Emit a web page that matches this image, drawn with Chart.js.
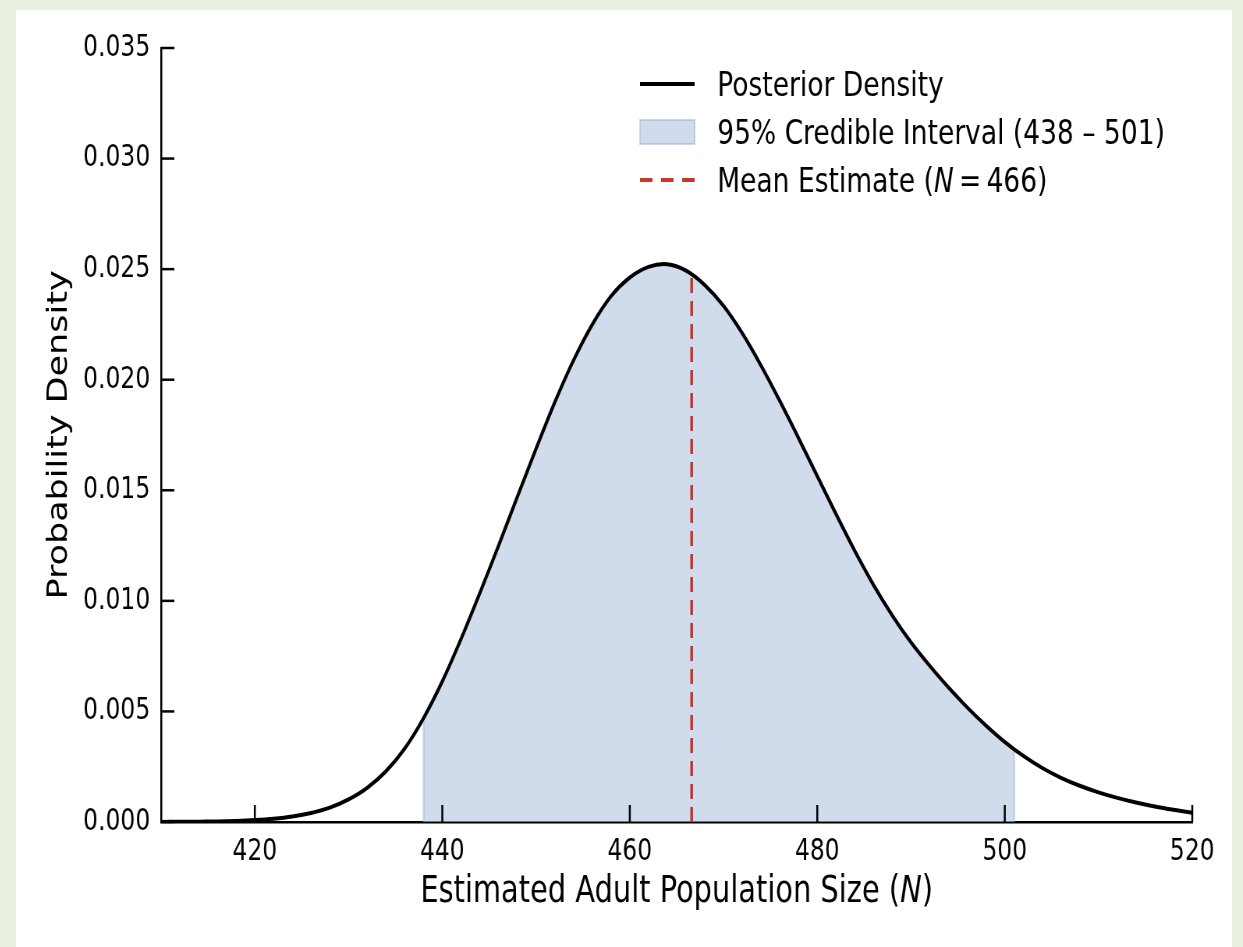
<!DOCTYPE html>
<html><head><meta charset="utf-8">
<script src="https://cdn.jsdelivr.net/npm/chart.js@4.4.1/dist/chart.umd.min.js"></script>
<style>
html,body{margin:0;padding:0;background:#e9f0e1;width:1243px;height:947px;overflow:hidden}
#panel{position:absolute;left:16px;top:10px;width:1216px;height:937px;background:#fff;overflow:hidden}
#c{position:absolute;left:0;top:0;transform:scaleX(0.78);transform-origin:0 0;display:block}
</style></head><body>
<div id="panel"><canvas id="c" width="1559" height="937" style="width:1559px;height:937px"></canvas></div>
<script>
// ---- data ----
const popSize = [410,412,414,416,418,420,422,424,426,428,430,432,434,436,438,440,442,444,446,448,450,452,454,456,458,460,462,464,466,468,470,472,474,476,478,480,482,484,486,488,490,492,494,496,498,500,502,504,506,508,510,512,514,516,518,520];
const density = [0.000004,0.000008,0.000015,0.000027,0.000049,0.000087,0.000149,0.00025,0.00041,0.00065,0.00102,0.00155,0.00230,0.00333,0.00470,0.00636,0.00828,0.01035,0.01250,0.01470,0.01688,0.01898,0.02088,0.02250,0.02378,0.02462,0.02510,0.02522,0.02493,0.02428,0.02334,0.02210,0.02064,0.01904,0.01736,0.01564,0.01392,0.01226,0.01072,0.00934,0.00812,0.00706,0.00608,0.00518,0.00436,0.00362,0.00298,0.00244,0.00200,0.00164,0.00134,0.00109,0.00088,0.00070,0.00055,0.00042];
const ciLow = 438;
const ciHigh = 501;
const ciHighDensity = 0.0033;
const meanN = 466.6;
const meanLabelN = 466;
const meanDensity = 0.0247;
const xTicks = [420,440,460,480,500,520];
const yTicks = [0.000,0.005,0.010,0.015,0.020,0.025,0.030,0.035];
const xTitleMain = 'Estimated Adult Population Size (';
const xTitleVar = 'N';
const yTitle = 'Probability Density';
const legendCurve = 'Posterior Density';
const legendCI = '95% Credible Interval (' + ciLow + ' \u2013 ' + ciHigh + ')';
const legendMeanPre = 'Mean Estimate (';
const legendMeanVar = 'N';
const legendMeanPost = '\u2009=\u2009' + meanLabelN + ')';

// ---- styles ----
const FONT = '"DejaVu Sans", "Liberation Sans", sans-serif';
const fillColor = 'rgba(176,196,222,0.6)';
const edgeColor = 'rgba(150,175,210,0.5)';
const redColor = '#c9372c';

const curvePts = popSize.map((x,i)=>({x, y: density[i]}));
const ciPts = curvePts.filter(p => p.x >= ciLow && p.x <= ciHigh);
ciPts.push({x: ciHigh, y: ciHighDensity});
const meanPts = [{x: meanN, y: 0}, {x: meanN, y: meanDensity}];

const decor = {
  id: 'decor',
  afterDatasetDraw(chart, args) {
    if (args.index !== 0) return;
    const ctx = chart.ctx, meta = chart.getDatasetMeta(0), ca = chart.chartArea;
    const pts = meta.data;
    ctx.save();
    ctx.strokeStyle = edgeColor; ctx.lineWidth = 2.5;
    [pts[0], pts[pts.length-1]].forEach(p => {
      ctx.beginPath(); ctx.moveTo(p.x, ca.bottom); ctx.lineTo(p.x, p.y); ctx.stroke();
    });
    ctx.restore();
  },
  afterDatasetsDraw(chart) {
    const ctx = chart.ctx, ca = chart.chartArea;
    const xs = chart.scales.x, ys = chart.scales.y;
    ctx.save();
    ctx.strokeStyle = '#000'; ctx.lineWidth = 2.5;
    xTicks.forEach(v => {
      const px = xs.getPixelForValue(v);
      ctx.beginPath(); ctx.moveTo(px, ca.bottom); ctx.lineTo(px, ca.bottom - 17); ctx.stroke();
    });
    yTicks.forEach(v => {
      const py = ys.getPixelForValue(v);
      ctx.beginPath(); ctx.moveTo(ca.left, py); ctx.lineTo(ca.left + 17, py); ctx.stroke();
    });
    ctx.restore();
  },
  afterDraw(chart) {
    const ctx = chart.ctx, ca = chart.chartArea;
    ctx.save();
    ctx.fillStyle = '#000';
    // x title with italic N
    const xf = 37;
    ctx.font = xf + 'px ' + FONT;
    const w1 = ctx.measureText(xTitleMain).width;
    ctx.font = 'italic ' + xf + 'px ' + FONT;
    const w2 = ctx.measureText(xTitleVar).width;
    ctx.font = xf + 'px ' + FONT;
    const w3 = ctx.measureText(')').width;
    let x0 = (ca.left + ca.right)/2 - (w1+w2+w3)/2;
    const yb = 892;
    ctx.textBaseline = 'alphabetic'; ctx.textAlign = 'left';
    ctx.fillText(xTitleMain, x0, yb);
    ctx.font = 'italic ' + xf + 'px ' + FONT; ctx.fillText(xTitleVar, x0 + w1, yb);
    ctx.font = xf + 'px ' + FONT; ctx.fillText(')', x0 + w1 + w2, yb);
    // y title
    ctx.save();
    ctx.translate(65, (ca.top + ca.bottom)/2);
    ctx.rotate(-Math.PI/2);
    ctx.textAlign = 'center'; ctx.textBaseline = 'alphabetic';
    ctx.font = '35px ' + FONT;
    ctx.fillText(yTitle, 0, 0);
    ctx.restore();
    // legend
    const hx0 = 800, hx1 = 870, tx = 899;
    const rows = [74, 122, 170];
    const fs = 34;
    const off = 12.3;
    ctx.textAlign = 'left'; ctx.textBaseline = 'alphabetic';
    // row 1
    ctx.strokeStyle = '#000'; ctx.lineWidth = 4;
    ctx.beginPath(); ctx.moveTo(hx0, rows[0]); ctx.lineTo(hx1, rows[0]); ctx.stroke();
    ctx.font = fs + 'px ' + FONT; ctx.fillText(legendCurve, tx, rows[0] + off);
    // row 2
    ctx.fillStyle = fillColor; ctx.fillRect(hx0, rows[1] - 12, hx1 - hx0, 24);
    ctx.strokeStyle = edgeColor; ctx.lineWidth = 2; ctx.strokeRect(hx0, rows[1] - 12, hx1 - hx0, 24);
    ctx.fillStyle = '#000'; ctx.fillText(legendCI, tx, rows[1] + off);
    // row 3
    ctx.strokeStyle = redColor; ctx.lineWidth = 4; ctx.setLineDash([16, 11]);
    ctx.beginPath(); ctx.moveTo(hx0, rows[2]); ctx.lineTo(hx1, rows[2]); ctx.stroke();
    ctx.setLineDash([]);
    let lx = tx;
    ctx.font = fs + 'px ' + FONT; ctx.fillText(legendMeanPre, lx, rows[2] + off);
    lx += ctx.measureText(legendMeanPre).width;
    ctx.font = 'italic ' + fs + 'px ' + FONT; ctx.fillText(legendMeanVar, lx, rows[2] + off);
    lx += ctx.measureText(legendMeanVar).width;
    ctx.font = fs + 'px ' + FONT; ctx.fillText(legendMeanPost, lx, rows[2] + off);
    ctx.restore();
  }
};

new Chart(document.getElementById('c'), {
  type: 'line',
  data: {
    datasets: [
      { label: 'ci', data: ciPts, fill: 'origin', backgroundColor: fillColor, borderWidth: 0, pointRadius: 0, tension: 0.3, order: 3 },
      { label: legendCurve, data: curvePts, fill: false, borderColor: '#000', borderWidth: 4, pointRadius: 0, tension: 0.3, order: 1 },
      { label: 'mean', data: meanPts, fill: false, borderColor: redColor, borderWidth: 3.6, borderDash: [15, 8], pointRadius: 0, order: 2 }
    ]
  },
  options: {
    responsive: false,
    animation: false,
    devicePixelRatio: 1,
    layout: { padding: { left: 0, right: 51, top: 38, bottom: 0 } },
    plugins: { legend: { display: false }, tooltip: { enabled: false } },
    scales: {
      x: {
        type: 'linear', min: 410, max: 520,
        afterBuildTicks: s => { s.ticks = xTicks.map(v => ({ value: v })); },
        afterFit: s => { s.height = 125; },
        grid: { display: false, drawTicks: false },
        border: { display: true, color: '#000', width: 2.5 },
        ticks: { color: '#000', font: { family: FONT, size: 30 }, padding: 12, maxRotation: 0, autoSkip: false }
      },
      y: {
        type: 'linear', min: 0, max: 0.035,
        afterBuildTicks: s => { s.ticks = yTicks.map(v => ({ value: v })); },
        afterFit: s => { s.width = 186; },
        grid: { display: false, drawTicks: false },
        border: { display: true, color: '#000', width: 2.5 },
        ticks: { color: '#000', font: { family: FONT, size: 30 }, padding: 14, callback: v => Number(v).toFixed(3), autoSkip: false }
      }
    }
  },
  plugins: [decor]
});
</script>
</body></html>
